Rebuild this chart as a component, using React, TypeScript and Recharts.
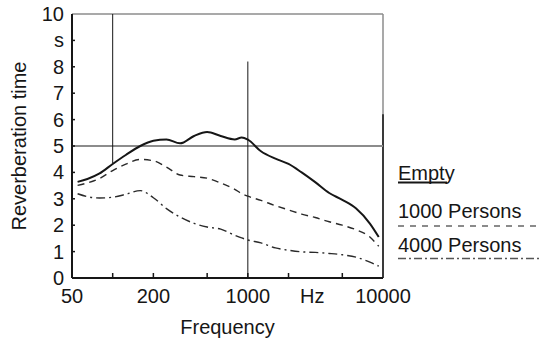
import React from "react";
import { LineChart, Line, XAxis, YAxis, ReferenceLine } from "recharts";

const freqs = [55, 65, 80, 100, 125, 160, 200, 250, 315, 400, 500, 630, 800, 900, 1000, 1250, 1600, 2000, 2500, 3150, 4000, 5000, 6300, 8000, 9300];
const empty = [3.64, 3.75, 3.96, 4.32, 4.66, 5.0, 5.2, 5.25, 5.1, 5.38, 5.53, 5.38, 5.25, 5.32, 5.24, 4.8, 4.52, 4.32, 4.0, 3.63, 3.22, 2.96, 2.64, 2.06, 1.55];
const persons1000 = [3.51, 3.6, 3.77, 4.07, 4.31, 4.49, 4.44, 4.2, 3.9, 3.84, 3.78, 3.6, 3.36, 3.2, 3.1, 2.94, 2.74, 2.58, 2.42, 2.29, 2.13, 2.0, 1.83, 1.55, 1.2];
const persons4000 = [3.19, 3.08, 3.03, 3.06, 3.17, 3.31, 3.04, 2.63, 2.31, 2.07, 1.93, 1.85, 1.62, 1.52, 1.44, 1.33, 1.14, 1.05, 0.99, 0.97, 0.93, 0.88, 0.79, 0.6, 0.45];

const xTicks = [50, 100, 200, 500, 1000, 2000, 3000, 5000, 10000];
const xTickLabels: Record<number, string> = { 50: "50", 200: "200", 1000: "1000", 3000: "Hz", 10000: "10000" };
const xInnerTicks = [100, 200, 500, 1000, 2000, 5000];
const yTicks = [0, 1, 2, 3, 4, 5, 6, 7, 8, 9, 10];
const yTickLabels: Record<number, string> = { 9: "s" };

const legendItems = ["Empty", "1000 Persons", "4000 Persons"];

const data = freqs.map((f, i) => ({
  f,
  empty: empty[i],
  p1000: persons1000[i],
  p4000: persons4000[i],
}));

const FONT = "'Liberation Sans', Arial, Helvetica, sans-serif";
const ink = "#161616";
const gray = "#8c8c8c";

const XTick = (props: any) => {
  const { x, y, payload } = props;
  const v = payload.value;
  return (
    <g>
      {xInnerTicks.includes(v) && (
        <line x1={x} x2={x} y1={y} y2={y - 5} stroke={ink} strokeWidth={1.5} />
      )}
      {xTickLabels[v] && (
        <text x={x} y={y + 25} textAnchor="middle" fontSize={20} fill={ink} fontFamily={FONT}>
          {xTickLabels[v]}
        </text>
      )}
    </g>
  );
};

const YTick = (props: any) => {
  const { x, y, payload } = props;
  const v = payload.value;
  return (
    <g>
      {v > 0 && v < 10 && (
        <line x1={x} x2={x + 3} y1={y} y2={y} stroke={ink} strokeWidth={1.5} />
      )}
      <text x={x - 8} y={y + 7} textAnchor="end" fontSize={20} fill={ink} fontFamily={FONT}>
        {yTickLabels[v] ?? String(v)}
      </text>
    </g>
  );
};

export default function App() {
  return (
    <div style={{ position: "absolute", left: 0, top: 0, width: 541, height: 340, background: "#fff", fontFamily: FONT }}>
      <LineChart
        width={541}
        height={340}
        data={data}
        margin={{ top: 14, right: 158, bottom: 32, left: 0 }}
      >
        <XAxis
          dataKey="f"
          type="number"
          scale="log"
          domain={[50, 10000]}
          ticks={xTicks}
          allowDataOverflow
          tick={<XTick />}
          tickSize={0}
          tickMargin={0}
          tickLine={false}
          height={30}
          axisLine={{ stroke: ink, strokeWidth: 2 }}
          interval={0}
          label={{
            content: () => (
              <text x={227.5} y={334} textAnchor="middle" fontSize={20} fill={ink} fontFamily={FONT}>
                Frequency
              </text>
            ),
          }}
        />
        <YAxis
          type="number"
          domain={[0, 10]}
          ticks={yTicks}
          interval={0}
          width={72}
          tick={<YTick />}
          tickSize={0}
          tickMargin={0}
          tickLine={false}
          axisLine={{ stroke: ink, strokeWidth: 2 }}
          label={{
            content: () => (
              <text
                x={26}
                y={146}
                transform="rotate(-90 26 146)"
                textAnchor="middle"
                fontSize={20}
                fill={ink}
                fontFamily={FONT}
              >
                Reverberation time
              </text>
            ),
          }}
        />
        {/* frame and reference grid */}
        <ReferenceLine y={10} stroke={gray} strokeWidth={1.5} />
        <ReferenceLine x={10000} stroke={gray} strokeWidth={1.5} />
        <ReferenceLine segment={[{ x: 10000, y: 0 }, { x: 10000, y: 6.2 }]} stroke={ink} strokeWidth={1.5} />
        <ReferenceLine y={5} stroke={gray} strokeWidth={1.8} />
        <ReferenceLine segment={[{ x: 100, y: 4.35 }, { x: 100, y: 10 }]} stroke={ink} strokeWidth={1} />
        <ReferenceLine segment={[{ x: 1000, y: 0 }, { x: 1000, y: 8.2 }]} stroke={ink} strokeWidth={1} />

        <Line
          dataKey="empty"
          type="monotone"
          stroke={ink}
          strokeWidth={2}
          dot={false}
          isAnimationActive={false}
        />
        <Line
          dataKey="p1000"
          type="monotone"
          stroke="#2a2a2a"
          strokeWidth={1.4}
          strokeDasharray="7 5"
          dot={false}
          isAnimationActive={false}
        />
        <Line
          dataKey="p4000"
          type="monotone"
          stroke="#2a2a2a"
          strokeWidth={1.4}
          strokeDasharray="9 4 2 4"
          dot={false}
          isAnimationActive={false}
        />
      </LineChart>

      {/* legend to the right of the plot */}
      <svg width={541} height={340} style={{ position: "absolute", left: 0, top: 0, pointerEvents: "none" }}>
        <text x={398} y={180} fontSize={20} fill={ink} fontFamily={FONT}>{legendItems[0]}</text>
        <line x1={398} x2={447} y1={182.5} y2={182.5} stroke={ink} strokeWidth={2} />
        <text x={398} y={217.5} fontSize={20} fill={ink} fontFamily={FONT}>{legendItems[1]}</text>
        <line x1={398} x2={541} y1={226} y2={226} stroke="#666" strokeWidth={1.5} strokeDasharray="6 6" />
        <text x={398} y={251.5} fontSize={20} fill={ink} fontFamily={FONT}>{legendItems[2]}</text>
        <line x1={398} x2={541} y1={258.5} y2={258.5} stroke="#555" strokeWidth={1.5} strokeDasharray="8 3 2 3" />
      </svg>
    </div>
  );
}
